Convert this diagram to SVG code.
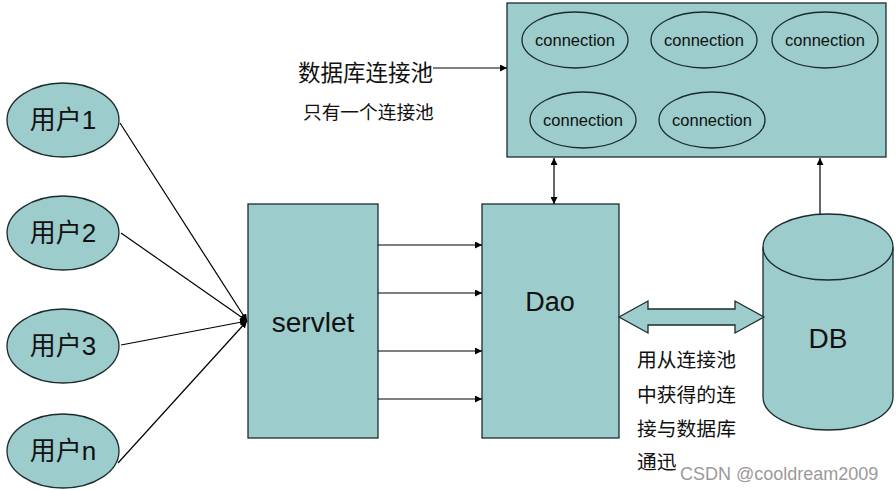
<svg xmlns="http://www.w3.org/2000/svg" width="896" height="490" viewBox="0 0 896 490">
<style>
.f{fill:#9ccccb;stroke:#1c2b2b;stroke-width:1.3}
.t{font-family:"Liberation Sans","Noto Sans CJK SC",sans-serif;fill:#111;text-anchor:middle;dominant-baseline:central}
.c{font-size:16.5px}
.u{font-size:26px}
.l{stroke:#000;stroke-width:1.2;fill:none}
.k{font-family:"Noto Sans CJK SC","Liberation Sans",sans-serif;fill:#111;dominant-baseline:central}
.m{font-size:19.8px}
</style>
<defs>
<marker id="a" viewBox="0 0 10 10" refX="10" refY="5" markerWidth="7" markerHeight="7" orient="auto-start-reverse" markerUnits="userSpaceOnUse"><path d="M0,0L10,5L0,10z" fill="#000"/></marker>
</defs>
<rect width="896" height="490" fill="#fff"/>
<g id="pool">
<rect class="f" x="507" y="3" width="379" height="154"/>
<g id="conn1"><ellipse class="f" cx="575" cy="40" rx="53" ry="28"/><text class="t c" x="575" y="40">connection</text></g>
<g id="conn2"><ellipse class="f" cx="704" cy="40" rx="53" ry="28"/><text class="t c" x="704" y="40">connection</text></g>
<g id="conn3"><ellipse class="f" cx="825" cy="40" rx="53" ry="28"/><text class="t c" x="825" y="40">connection</text></g>
<g id="conn4"><ellipse class="f" cx="583" cy="120" rx="53" ry="28"/><text class="t c" x="583" y="120">connection</text></g>
<g id="conn5"><ellipse class="f" cx="712" cy="120" rx="53" ry="28"/><text class="t c" x="712" y="120">connection</text></g>
</g>
<g id="user1"><ellipse class="f" cx="63" cy="120" rx="56" ry="37"/><text class="t u" x="63" y="120">用户1</text></g>
<g id="user2"><ellipse class="f" cx="63" cy="233" rx="56" ry="37"/><text class="t u" x="63" y="233">用户2</text></g>
<g id="user3"><ellipse class="f" cx="63" cy="346" rx="56" ry="37"/><text class="t u" x="63" y="346">用户3</text></g>
<g id="usern"><ellipse class="f" cx="63" cy="451" rx="56" ry="37"/><text class="t u" x="63" y="451">用户n</text></g>
<g id="servlet"><rect class="f" x="248" y="204" width="130" height="234"/><text class="t" x="313" y="322" font-size="28">servlet</text></g>
<g id="dao"><rect class="f" x="482" y="204" width="137" height="234"/><text class="t" x="550" y="302" font-size="27">Dao</text></g>
<g id="db">
<path class="f" d="M763,247 V397 A65,33 0 0 0 893,397 V247"/>
<ellipse class="f" cx="828" cy="247" rx="65" ry="33"/>
<text class="t" x="828" y="338" font-size="28">DB</text>
</g>
<g id="connectors">
<line class="l" x1="120" y1="123" x2="247" y2="321" marker-end="url(#a)"/>
<line class="l" x1="121" y1="233" x2="247" y2="321" marker-end="url(#a)"/>
<line class="l" x1="121" y1="345" x2="247" y2="321" marker-end="url(#a)"/>
<line class="l" x1="118" y1="463" x2="247" y2="321" marker-end="url(#a)"/>
<line class="l" x1="378" y1="245" x2="482" y2="245" marker-end="url(#a)"/>
<line class="l" x1="378" y1="293" x2="482" y2="293" marker-end="url(#a)"/>
<line class="l" x1="378" y1="351" x2="482" y2="351" marker-end="url(#a)"/>
<line class="l" x1="378" y1="399" x2="482" y2="399" marker-end="url(#a)"/>
<line class="l" x1="554" y1="158" x2="554" y2="204" marker-start="url(#a)" marker-end="url(#a)"/>
<line class="l" x1="820" y1="214" x2="820" y2="158" marker-end="url(#a)"/>
<line class="l" x1="433" y1="68" x2="507" y2="68" marker-end="url(#a)"/>
<path class="f" d="M619,317 L648,301 V309 H735 V301 L764,317 L735,333 V325 H648 V333 Z"/>
</g>
<g id="labels">
<text class="k" x="298" y="71" font-size="22.5">数据库连接池</text>
<text class="k" x="303" y="110" font-size="18.7">只有一个连接池</text>
<text class="k m" x="637" y="358">用从连接池</text>
<text class="k m" x="637" y="393">中获得的连</text>
<text class="k m" x="637" y="427">接与数据库</text>
<text class="k m" x="637" y="460">通迅</text>
<text x="680" y="480" font-family="Liberation Sans,sans-serif" font-size="18" fill="#9a9a9a">CSDN @cooldream2009</text>
</g>
</svg>
